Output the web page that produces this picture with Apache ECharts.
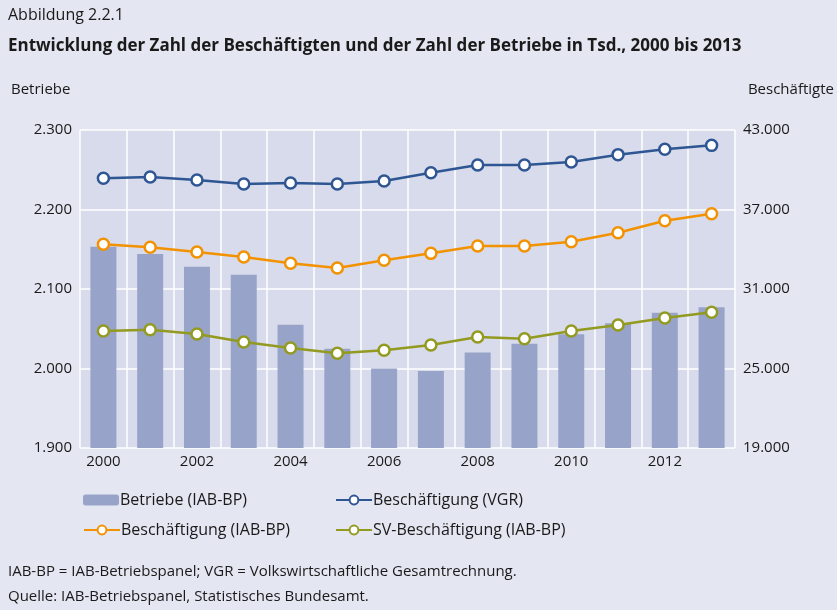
<!DOCTYPE html>
<html>
<head>
<meta charset="utf-8">
<script src="https://cdn.jsdelivr.net/npm/echarts@6/dist/echarts.min.js"></script>
<style>
  html, body { margin: 0; padding: 0; background: #e4e6f1; }
  #chart { width: 837px; height: 610px; }
</style>
</head>
<body>
<div id="chart"></div>
<script>
  // Jahre und Werte (in Tsd.)
  const years = ['2000', '2001', '2002', '2003', '2004', '2005', '2006',
    '2007', '2008', '2009', '2010', '2011', '2012', '2013']
  const betriebe = [2153, 2144, 2128, 2118, 2055, 2025, 2000,
    1997, 2020, 2031, 2043, 2057, 2070, 2077]
  const beschVGR = [39355, 39450, 39230, 38925, 39000, 38925, 39150,
    39780, 40360, 40360, 40585, 41140, 41540, 41840]
  const beschIAB = [34370, 34145, 33790, 33415, 32940, 32585, 33165,
    33690, 34245, 34245, 34570, 35250, 36155, 36685]
  const svBesch = [27830, 27930, 27600, 27000, 26550, 26145, 26370,
    26775, 27380, 27250, 27830, 28285, 28810, 29240]

  const FONT = '"Open Sans", sans-serif'
  const TXT = '#1a1a1a'

  function fmt(v) {
    return String(v).replace(/\B(?=(\d{3})+(?!\d))/g, '.')
  }

  function lineSeries(name, data, color) {
    return {
      name: name,
      type: 'line',
      yAxisIndex: 1,
      data: data,
      symbol: 'circle',
      symbolSize: 11,
      showAllSymbol: true,
      lineStyle: { color: color, width: 2.5 },
      itemStyle: { color: '#ffffff', borderColor: color, borderWidth: 2.5 },
      z: 3
    }
  }

  function legendAt(name, left, top) {
    return {
      data: [name],
      left: left,
      top: top,
      itemWidth: 36,
      itemHeight: 11,
      itemGap: 0,
      textStyle: { fontFamily: FONT, fontSize: 16, color: TXT, padding: [0, 0, 0, -4] }
    }
  }

  const chart = echarts.init(document.getElementById('chart'))
  chart.setOption({
    backgroundColor: '#e4e6f1',
    animation: false,
    textStyle: { fontFamily: FONT },
    graphic: [
      { type: 'text', left: 8, top: 7, style: { text: 'Abbildung 2.2.1', fontFamily: FONT, fontSize: 16, fill: TXT } },
      { type: 'text', left: 8, top: 38, style: { text: 'Entwicklung der Zahl der Beschäftigten und der Zahl der Betriebe in Tsd., 2000 bis 2013', fontFamily: FONT, fontSize: 17, fontWeight: 'bold', fill: TXT } },
      { type: 'text', left: 11, top: 82, style: { text: 'Betriebe', fontFamily: FONT, fontSize: 15, fill: TXT } },
      { type: 'text', right: 3, top: 82, style: { text: 'Beschäftigte', fontFamily: FONT, fontSize: 15, fill: TXT } },
      { type: 'text', left: 8, top: 564, style: { text: 'IAB-BP = IAB-Betriebspanel; VGR = Volkswirtschaftliche Gesamtrechnung.', fontFamily: FONT, fontSize: 15, fill: TXT } },
      { type: 'text', left: 8, top: 589, style: { text: 'Quelle: IAB-Betriebspanel, Statistisches Bundesamt.', fontFamily: FONT, fontSize: 15, fill: TXT } }
    ],
    legend: [
      legendAt('Betriebe (IAB-BP)', 78, 487),
      legendAt('Beschäftigung (VGR)', 330, 487),
      legendAt('Beschäftigung (IAB-BP)', 78, 517),
      legendAt('SV-Beschäftigung (IAB-BP)', 330, 517)
    ],
    grid: {
      left: 80,
      right: 102,
      top: 130,
      height: 318,
      show: true,
      backgroundColor: '#d8dbeb',
      borderWidth: 0
    },
    xAxis: {
      type: 'category',
      data: years,
      boundaryGap: true,
      axisLine: { show: false },
      axisTick: { show: false },
      axisLabel: { interval: 1, color: TXT, fontSize: 15, margin: 6 },
      splitLine: { show: true, interval: 0, lineStyle: { color: '#ffffff', width: 1.5 } }
    },
    yAxis: [
      {
        type: 'value',
        min: 1900,
        max: 2300,
        interval: 100,
        axisLine: { show: false },
        axisTick: { show: false },
        axisLabel: { color: TXT, fontSize: 15, margin: 8, formatter: fmt },
        splitLine: { show: true, lineStyle: { color: '#ffffff', width: 1.5 } }
      },
      {
        type: 'value',
        min: 19000,
        max: 43000,
        interval: 6000,
        axisLine: { show: false },
        axisTick: { show: false },
        axisLabel: { color: TXT, fontSize: 15, margin: 8, formatter: fmt },
        splitLine: { show: false }
      }
    ],
    series: [
      {
        name: 'Betriebe (IAB-BP)',
        type: 'bar',
        yAxisIndex: 0,
        data: betriebe,
        barWidth: 26,
        itemStyle: { color: '#97a3c8' },
        z: 2
      },
      lineSeries('Beschäftigung (VGR)', beschVGR, '#2e5693'),
      lineSeries('Beschäftigung (IAB-BP)', beschIAB, '#f39200'),
      lineSeries('SV-Beschäftigung (IAB-BP)', svBesch, '#939a20')
    ]
  })
</script>
</body>
</html>
